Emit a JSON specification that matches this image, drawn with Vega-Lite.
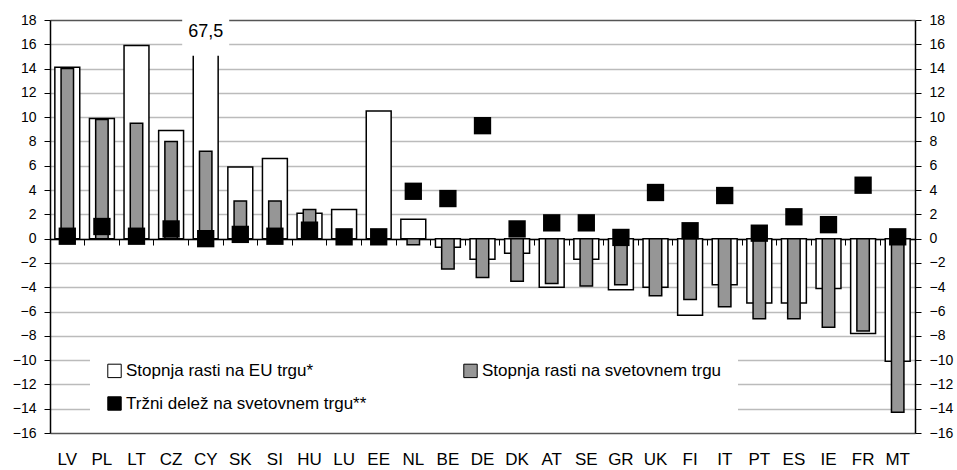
{
  "$schema": "https://vega.github.io/schema/vega-lite/v6.json",
  "width": 865,
  "height": 413,
  "autosize": {"type": "none"},
  "padding": {"left": 50, "top": 20, "right": 42, "bottom": 37},
  "background": "white",
  "config": {"view": {"stroke": null}, "font": "Liberation Sans"},
  "data": {"values": [
    {"country": "LV", "eu": 14.1, "world": 14.0, "share": 0.2},
    {"country": "PL", "eu": 9.9, "world": 9.8, "share": 1.0},
    {"country": "LT", "eu": 15.9, "world": 9.5, "share": 0.2},
    {"country": "CZ", "eu": 8.9, "world": 8.0, "share": 0.8},
    {"country": "CY", "eu": 67.5, "world": 7.2, "share": 0.0},
    {"country": "SK", "eu": 5.9, "world": 3.1, "share": 0.35},
    {"country": "SI", "eu": 6.6, "world": 3.1, "share": 0.2},
    {"country": "HU", "eu": 2.1, "world": 2.4, "share": 0.7},
    {"country": "LU", "eu": 2.4, "world": 0.0, "share": 0.15},
    {"country": "EE", "eu": 10.5, "world": 0.0, "share": 0.15},
    {"country": "NL", "eu": 1.6, "world": -0.5, "share": 3.9},
    {"country": "BE", "eu": -0.7, "world": -2.5, "share": 3.3},
    {"country": "DE", "eu": -1.7, "world": -3.2, "share": 9.3},
    {"country": "DK", "eu": -1.2, "world": -3.5, "share": 0.8},
    {"country": "AT", "eu": -4.0, "world": -3.7, "share": 1.3},
    {"country": "SE", "eu": -1.7, "world": -3.9, "share": 1.3},
    {"country": "GR", "eu": -4.2, "world": -3.8, "share": 0.1},
    {"country": "UK", "eu": -4.0, "world": -4.7, "share": 3.8},
    {"country": "FI", "eu": -6.3, "world": -5.0, "share": 0.65},
    {"country": "IT", "eu": -3.8, "world": -5.6, "share": 3.55},
    {"country": "PT", "eu": -5.3, "world": -6.6, "share": 0.45},
    {"country": "ES", "eu": -5.3, "world": -6.6, "share": 1.8},
    {"country": "IE", "eu": -4.1, "world": -7.3, "share": 1.15},
    {"country": "FR", "eu": -7.8, "world": -7.6, "share": 4.4},
    {"country": "MT", "eu": -10.1, "world": -14.3, "share": 0.15}
  ]},
  "layer": [
    {
      "mark": {"type": "bar", "stroke": "black", "strokeWidth": 1.5, "width": {"band": 0.72}, "clip": true},
      "encoding": {
        "x": {"field": "country", "type": "nominal",
              "sort": ["LV","PL","LT","CZ","CY","SK","SI","HU","LU","EE","NL","BE","DE","DK","AT","SE","GR","UK","FI","IT","PT","ES","IE","FR","MT"],
              "scale": {"paddingInner": 0, "paddingOuter": 0},
              "axis": {"orient": "bottom", "title": null, "labelAngle": 0, "ticks": false, "domain": false,
                       "labelFontSize": 17, "labelPadding": 18, "labelColor": "black", "grid": false}},
        "y": {"field": "eu", "type": "quantitative",
              "scale": {"domain": [-16, 18], "nice": false, "zero": false},
              "axis": {"orient": "left", "title": null,
                       "values": [-16, -14, -12, -10, -8, -6, -4, -2, 0, 2, 4, 6, 8, 10, 12, 14, 16, 18],
                       "grid": true,
                       "gridColor": {"condition": {"test": "datum.value === 18 || datum.value === -16", "value": "#555555"}, "value": "#bbbbbb"},
                       "gridWidth": 1.5, "domainColor": "black", "domainWidth": 1.5,
                       "tickColor": "black", "tickSize": 6, "labelFontSize": 14, "labelPadding": 8, "labelColor": "black"}},
        "fill": {"datum": "Stopnja rasti na EU trgu*", "type": "nominal",
                 "scale": {"domain": ["Stopnja rasti na EU trgu*", "Tržni delež na svetovnem trgu**", "Stopnja rasti na svetovnem trgu"],
                           "range": ["white", "black", "#969696"]},
                 "legend": {"orient": "none", "legendX": 40, "legendY": 326, "columns": 2, "title": null,
                            "fillColor": "white", "padding": 16, "symbolType": "square", "symbolSize": 180,
                            "symbolStrokeColor": "black", "symbolStrokeWidth": 1, "labelFontSize": 17, "labelColor": "black",
                            "labelOffset": 3, "columnPadding": 94, "rowPadding": 14, "labelLimit": 400}}
      }
    },
    {
      "mark": {"type": "bar", "stroke": "black", "strokeWidth": 1.5, "width": {"band": 0.36}, "clip": true},
      "encoding": {
        "x": {"field": "country", "type": "nominal",
              "sort": ["LV","PL","LT","CZ","CY","SK","SI","HU","LU","EE","NL","BE","DE","DK","AT","SE","GR","UK","FI","IT","PT","ES","IE","FR","MT"],
              "axis": {"orient": "bottom", "offset": -194, "labels": false, "title": null, "bandPosition": 0,
                       "tickSize": 6, "tickColor": "black", "domainColor": "black", "domainWidth": 1.5, "grid": false}},
        "y": {"field": "world", "type": "quantitative",
              "axis": {"orient": "right", "title": null,
                       "values": [-16, -14, -12, -10, -8, -6, -4, -2, 0, 2, 4, 6, 8, 10, 12, 14, 16, 18],
                       "grid": false, "domainColor": "black", "domainWidth": 1.5,
                       "tickColor": "black", "tickSize": 6, "labelFontSize": 14, "labelPadding": 8, "labelColor": "black"}},
        "fill": {"datum": "Stopnja rasti na svetovnem trgu", "type": "nominal"}
      }
    },
    {
      "mark": {"type": "square", "size": 300, "filled": true, "opacity": 1},
      "encoding": {
        "x": {"field": "country", "type": "nominal",
              "sort": ["LV","PL","LT","CZ","CY","SK","SI","HU","LU","EE","NL","BE","DE","DK","AT","SE","GR","UK","FI","IT","PT","ES","IE","FR","MT"],
              "axis": null},
        "y": {"field": "share", "type": "quantitative", "axis": null},
        "fill": {"datum": "Tržni delež na svetovnem trgu**", "type": "nominal"}
      }
    },
    {
      "data": {"values": [{"country": "CY", "label": "67,5"}]},
      "mark": {"type": "bar", "fill": "white", "width": 47, "clip": false},
      "encoding": {
        "x": {"field": "country", "type": "nominal",
              "sort": ["LV","PL","LT","CZ","CY","SK","SI","HU","LU","EE","NL","BE","DE","DK","AT","SE","GR","UK","FI","IT","PT","ES","IE","FR","MT"],
              "axis": null},
        "y": {"datum": 20.5, "type": "quantitative", "axis": null},
        "y2": {"datum": 15.05}
      }
    },
    {
      "data": {"values": [{"country": "CY", "label": "67,5"}]},
      "mark": {"type": "text", "fontSize": 18, "color": "black", "clip": false},
      "encoding": {
        "x": {"field": "country", "type": "nominal",
              "sort": ["LV","PL","LT","CZ","CY","SK","SI","HU","LU","EE","NL","BE","DE","DK","AT","SE","GR","UK","FI","IT","PT","ES","IE","FR","MT"],
              "axis": null},
        "y": {"datum": 17.0, "type": "quantitative", "axis": null},
        "text": {"field": "label"}
      }
    }
  ],
  "resolve": {"axis": {"x": "independent", "y": "independent"}}
}
